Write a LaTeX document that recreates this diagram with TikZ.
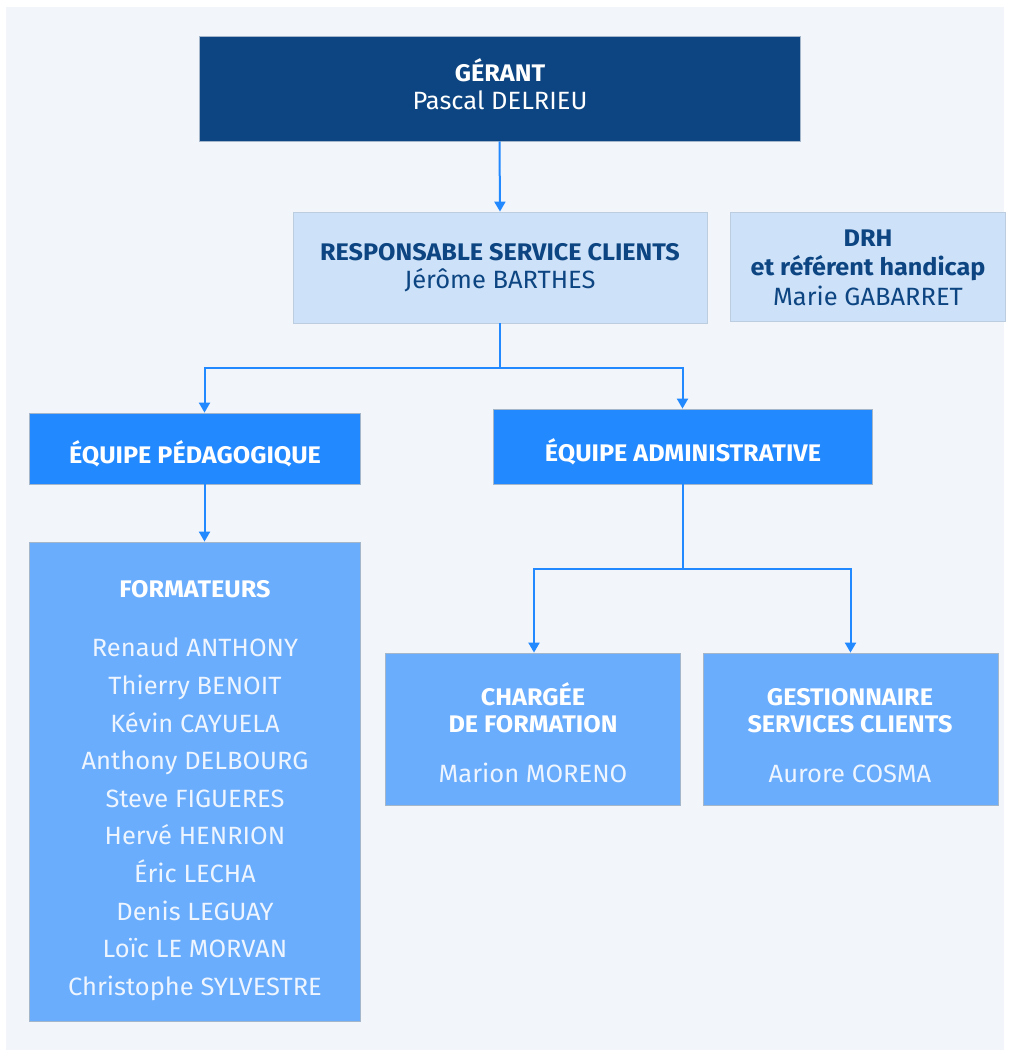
\documentclass[tikz,border=0pt]{standalone}
\usepackage{fontspec}
\setmainfont{Fira Sans}
\newfontfamily\headfont[FakeStretch=1.05]{Fira Sans}
\newfontfamily\namefont[FakeStretch=1.02]{Fira Sans}
\usetikzlibrary{arrows.meta}
\definecolor{pagebg}{HTML}{F2F5F9}
\definecolor{darkblue}{HTML}{0C4581}
\definecolor{paleblue}{HTML}{CDE1F8}
\definecolor{brightblue}{HTML}{2389FF}
\definecolor{midblue}{HTML}{69ADFC}
\definecolor{framegray}{HTML}{A4B6CA}
\definecolor{nametext}{HTML}{EEF5FF}
\tikzset{
  orgbox/.style={rectangle, inner sep=0pt, draw=framegray, line width=0.8pt},
  heading/.style={inner sep=0pt, anchor=base, font=\headfont\bfseries\fontsize{24}{26}\selectfont},
  person/.style={inner sep=0pt, anchor=base, font=\namefont\fontsize{25}{28}\selectfont},
  link/.style={brightblue, line width=2pt, -{Triangle[width=11pt,length=10pt]}}
}
\begin{document}
\begin{tikzpicture}[x=1pt, y=-1pt]
  \useasboundingbox (0,0) rectangle (1009,1053);
  \fill[white] (0,0) rectangle (1009,1053);
  \fill[pagebg] (6,7) rectangle (1004,1050); % background panel
  % boxes
  \node[orgbox, fill=darkblue, minimum width=601pt, minimum height=105pt] (gerant) at (499.5,88.5) {};
  \node[orgbox, fill=paleblue, draw=paleblue!80!gray, minimum width=414pt, minimum height=111pt] (rsc) at (500,267.5) {};
  \node[orgbox, fill=paleblue, draw=paleblue!80!gray, minimum width=275pt, minimum height=109pt] (drh) at (867.5,266.5) {};
  \node[orgbox, fill=brightblue, minimum width=331pt, minimum height=71pt] (peda) at (194.5,448.5) {};
  \node[orgbox, fill=brightblue, minimum width=379pt, minimum height=75pt] (admin) at (682.5,446.5) {};
  \node[orgbox, fill=midblue, minimum width=331pt, minimum height=479pt] (formateurs) at (194.5,781.5) {};
  \node[orgbox, fill=midblue, minimum width=295pt, minimum height=152pt] (chargee) at (532.5,729) {};
  \node[orgbox, fill=midblue, minimum width=295pt, minimum height=152pt] (gestion) at (850.5,729) {};
  % texts (base lines)
  \node[heading, white] (gerantT) at (500,81) {GÉRANT};
  \node[person, white] (gerantN) at (500,109.5) {Pascal DELRIEU};
  \node[heading, darkblue] (rscT) at (500,260) {RESPONSABLE SERVICE CLIENTS};
  \node[person, darkblue] (rscN) at (500,288.5) {Jérôme BARTHES};
  \node[heading, darkblue] (drhT) at (868,246) {DRH};
  \node[heading, darkblue] (drhT2) at (868,275) {et référent handicap};
  \node[person, darkblue] (drhN) at (868,305.5) {Marie GABARRET};
  \node[heading, white] (pedaT) at (195,463) {ÉQUIPE PÉDAGOGIQUE};
  \node[heading, white] (adminT) at (683,461) {ÉQUIPE ADMINISTRATIVE};
  \node[heading, white] (formT) at (195,597) {FORMATEURS};
  \node[person, nametext] (f1) at (195,656.5) {Renaud ANTHONY};
  \node[person, nametext] (f2) at (195,694.5) {Thierry BENOIT};
  \node[person, nametext] (f3) at (195,732.5) {Kévin CAYUELA};
  \node[person, nametext] (f4) at (195,769.5) {Anthony DELBOURG};
  \node[person, nametext] (f5) at (195,807.5) {Steve FIGUERES};
  \node[person, nametext] (f6) at (195,844.5) {Hervé HENRION};
  \node[person, nametext] (f7) at (195,882.5) {Éric LECHA};
  \node[person, nametext] (f8) at (195,920.5) {Denis LEGUAY};
  \node[person, nametext] (f9) at (195,957.5) {Loïc LE MORVAN};
  \node[person, nametext] (f10) at (195,995.5) {Christophe SYLVESTRE};
  \node[heading, white] (chargeeT) at (533,705) {CHARGÉE};
  \node[heading, white] (chargeeT2) at (533,732) {DE FORMATION};
  \node[person, nametext] (chargeeN) at (533,782.5) {Marion MORENO};
  \node[heading, white] (gestionT) at (850,705) {GESTIONNAIRE};
  \node[heading, white] (gestionT2) at (850,732) {SERVICES CLIENTS};
  \node[person, nametext] (gestionN) at (850,782.5) {Aurore COSMA};
  % links
  \coordinate (level1) at (0,368);
  \coordinate (level2) at (0,569);
  \coordinate (split) at (rsc.south |- level1);
  \coordinate (split2) at (admin.south |- level2);
  \draw[link] (gerant.south) -- (rsc.north);
  \draw[link] (rsc.south) -- (split) -| ([xshift=10pt]peda.north);
  \draw[link] (split) -| (admin.north);
  \draw[link] ([xshift=10pt]peda.south) -- ([xshift=10pt]formateurs.north);
  \draw[link] (admin.south) -- (split2) -| ([xshift=1.5pt]chargee.north);
  \draw[link] (split2) -| (gestion.north);
\end{tikzpicture}
\end{document}
